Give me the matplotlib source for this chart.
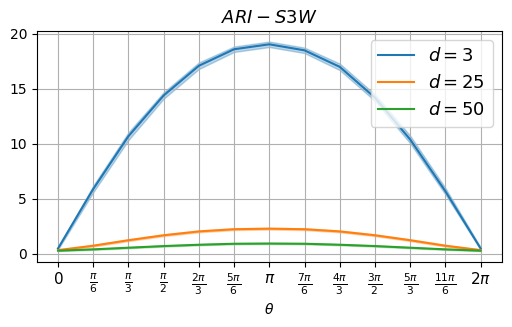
import numpy as np
import matplotlib
matplotlib.use("Agg")
import matplotlib.pyplot as plt

# theta positions (multiples of pi/6)
steps = np.arange(13)
tick_labels = [r'$0$', r'$\frac{\pi}{6}$', r'$\frac{\pi}{3}$', r'$\frac{\pi}{2}$',
               r'$\frac{2\pi}{3}$', r'$\frac{5\pi}{6}$', r'$\pi$', r'$\frac{7\pi}{6}$',
               r'$\frac{4\pi}{3}$', r'$\frac{3\pi}{2}$', r'$\frac{5\pi}{3}$',
               r'$\frac{11\pi}{6}$', r'$2\pi$']

# mean curves
d3 = [0.5, 5.9, 10.7, 14.4, 17.1, 18.6, 19.05, 18.5, 17.0, 14.2, 10.4, 5.7, 0.5]
d25 = [0.35, 0.75, 1.25, 1.7, 2.05, 2.25, 2.3, 2.25, 2.05, 1.7, 1.25, 0.75, 0.35]
d50 = [0.3, 0.42, 0.57, 0.72, 0.84, 0.93, 0.95, 0.93, 0.84, 0.72, 0.57, 0.42, 0.3]
# spread (std) for shaded bands
d3_std = [0.1, 0.3, 0.35, 0.3, 0.3, 0.25, 0.25, 0.25, 0.3, 0.3, 0.35, 0.3, 0.1]
d25_std = [0.05, 0.08, 0.08, 0.08, 0.08, 0.08, 0.08, 0.08, 0.08, 0.08, 0.08, 0.08, 0.05]
d50_std = [0.04, 0.05, 0.05, 0.05, 0.05, 0.05, 0.05, 0.05, 0.05, 0.05, 0.05, 0.05, 0.04]

theta = steps * np.pi / 6

fig, ax = plt.subplots(figsize=(5.12, 3.27), dpi=100)
for mean, std, lab in [(d3, d3_std, r'$d=3$'), (d25, d25_std, r'$d=25$'), (d50, d50_std, r'$d=50$')]:
    mean = np.array(mean)
    std = np.array(std)
    line, = ax.plot(theta, mean, label=lab)
    ax.fill_between(theta, mean - std, mean + std, color=line.get_color(), alpha=0.3)

ax.set_xticks(theta)
ax.set_xticklabels(tick_labels, fontsize=11)
ax.set_xlabel(r'$\theta$')
ax.set_title(r'$ARI-S3W$', fontsize=13)
ax.set_yticks([0, 5, 10, 15, 20])
ax.grid(True)
ax.legend(loc='upper right', fontsize=13)
fig.subplots_adjust(left=0.072, right=0.98, top=0.905, bottom=0.2)
fig.savefig('out.png')
